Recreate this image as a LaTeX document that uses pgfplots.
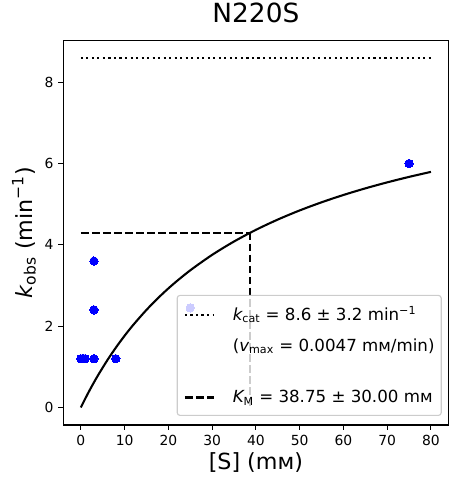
\documentclass[border=0pt]{standalone}
\usepackage{fontspec}
\setmainfont{DejaVu Sans}
\usepackage{pgfplots}
\pgfplotsset{compat=1.18}
\begin{document}
\begin{tikzpicture}
\begin{axis}[
 scale only axis, width=277.3pt, height=277pt,
 xmin=-4, xmax=84, ymin=-0.43, ymax=9.03,
 xtick={0,10,...,80}, ytick={0,2,4,6,8},
 xtick pos=bottom, ytick pos=left,
 tick align=outside, major tick length=3.5pt,
 every tick/.style={black, line width=0.8pt},
 axis line style={line width=0.8pt},
 /pgf/number format/assume math mode=true,
 ticklabel style={font=\fontsize{10}{12}\selectfont},
 title={N220S},
 title style={font=\fontsize{19}{22}\selectfont, at={(axis description cs:0.5,1.0242)}, anchor=base, inner sep=0pt},
 xlabel={{[S] (mм)}},
 xlabel style={font=\fontsize{16}{19}\selectfont, at={(axis description cs:0.5,-0.1169)}, anchor=base, inner sep=0pt},
 ylabel={{\itshape k}\textsubscript{obs} (min\textsuperscript{−1})},
 ylabel style={font=\fontsize{16}{19}\selectfont, at={(axis description cs:-0.0812,0.5)}, anchor=base, inner sep=0pt},
 legend image code/.code={\draw[#1] (0pt,3.8pt) -- (21pt,3.8pt);},
 legend style={at={(1,0)}, anchor=south east, xshift=-4.8pt, yshift=6.5pt,
   draw=black!20, line width=0.8pt, rounded corners=2pt, fill=white,
   fill opacity=0.8, draw opacity=1, text opacity=1, inner sep=4.8pt,
   row sep=0pt, column sep=12.7pt, font=\fontsize{12}{14.4}\selectfont,
   cells={anchor=base west},
   nodes={inner sep=0pt, text depth={}, text height={}}},
]
\addplot[forget plot, black, line width=1.5pt, dash pattern=on 1.5pt off 2.475pt] coordinates {(0,8.6) (80,8.6)};
\addplot[forget plot, black, line width=1.5pt, dash pattern=on 5.55pt off 2.4pt] coordinates {(0,4.3) (38.75,4.3)};
\addplot[forget plot, black, line width=1.5pt, dash pattern=on 5.55pt off 2.4pt] coordinates {(38.75,4.3) (38.75,0)};
\addplot[forget plot, black, line width=1.5pt, smooth] coordinates {
(0,0) (1,0.2164) (2,0.4221) (3,0.6180) (4,0.8047) (6,1.1531) (8,1.4717) (10,1.7641)
(12,2.0335) (15,2.4000) (18,2.7278) (21,3.0226) (25,3.3725) (30,3.7527) (35,4.0814)
(40,4.3683) (45,4.6209) (50,4.8451) (55,5.0453) (60,5.2253) (65,5.3880) (70,5.5356)
(75,5.6703) (80,5.7937)};
\addplot[forget plot, only marks, mark=*, mark size=3pt, color=blue, mark options={fill=blue, draw=blue, line width=0pt}] coordinates {
(0,1.2) (0.5,1.2) (1,1.2) (3,1.2) (3,2.4) (3,3.6) (8,1.2) (25,2.45) (75,6.0)};
\coordinate (bl) at (rel axis cs:0,0);
\coordinate (tr) at (rel axis cs:1,1);
\addlegendimage{black, line width=1.5pt, dash pattern=on 1.5pt off 2.475pt}
\addlegendentry{\rule[-3pt]{0pt}{16pt}{\itshape k}\textsubscript{cat} = 8.6 ± 3.2 min\textsuperscript{−1}}
\addlegendimage{empty legend}
\addlegendentry{\rule[-19pt]{0pt}{38.3pt}({\itshape v}\textsubscript{max} = 0.0047 mм/min)}
\addlegendimage{black, line width=1.5pt, dash pattern=on 5.55pt off 2.4pt}
\addlegendentry{\rule[-4.3pt]{0pt}{22.5pt}{\itshape K}\textsubscript{M} = 38.75 ± 30.00 mм}
\end{axis}
\pgfresetboundingbox
\path ([xshift=-45.6pt,yshift=-42.5pt]bl) rectangle ([xshift=8.35pt,yshift=29pt]tr);
\end{tikzpicture}
\end{document}
